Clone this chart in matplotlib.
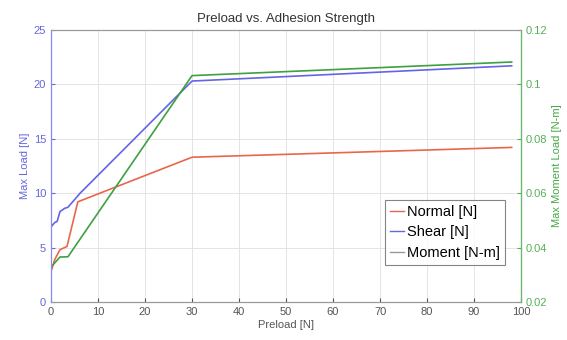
import matplotlib
matplotlib.use('Agg')
import matplotlib.pyplot as plt
from matplotlib.lines import Line2D

plt.rcParams['font.family'] = ['Liberation Sans', 'DejaVu Sans']

# 데이터
normal_x = [0, 0.8, 1.9, 3.4, 5.7, 30, 98]
normal_y = [2.8, 3.9, 4.8, 5.1, 9.2, 13.3, 14.2]

shear_x = [0, 0.8, 1.3, 1.9, 2.9, 3.6, 6.2, 30, 98]
shear_y = [6.9, 7.3, 7.4, 8.3, 8.6, 8.7, 10.0, 20.3, 21.7]

moment_x = [0, 1.9, 3.6, 30, 98]
moment_y = [0.0328, 0.0365, 0.0366, 0.1032, 0.1082]

red = '#e8674a'
blue = '#6464e6'
green = '#3ea043'

fig = plt.figure(figsize=(5.67, 3.4), dpi=100)
ax = fig.add_axes([0.09, 0.112, 0.829, 0.8])
ax2 = ax.twinx()

ax.plot(normal_x, normal_y, color=red, lw=1.2)
ax.plot(shear_x, shear_y, color=blue, lw=1.2)
ax2.plot(moment_x, moment_y, color=green, lw=1.2)

ax.set_xlim(0, 100)
ax.set_ylim(0, 25)
ax2.set_ylim(0.02, 0.12)
ax.set_xticks(range(0, 101, 10))
ax.set_yticks(range(0, 26, 5))
ax2.set_yticks([0.02, 0.04, 0.06, 0.08, 0.1, 0.12])
ax2.set_yticklabels(['0.02', '0.04', '0.06', '0.08', '0.1', '0.12'])

ax.grid(True, color='#e4e4e4', lw=0.7)
ax.tick_params(direction='in', labelsize=8, length=3, colors='#555555')
ax.tick_params(axis='y', colors='#6666dd')
ax2.tick_params(direction='in', labelsize=8, length=3, colors='#55b055')

for s in ['top', 'bottom']:
    ax.spines[s].set_color('#999999')
ax.spines['left'].set_color('#8888ee')
ax2.spines['left'].set_color('#8888ee')
ax2.spines['right'].set_color('#66bb66')
ax2.spines['top'].set_color('#999999')
ax2.spines['bottom'].set_color('#999999')

ax.set_xlabel('Preload [N]', fontsize=8, color='#555555', labelpad=2)
ax.set_ylabel('Max Load [N]', fontsize=8, color='#6666dd', labelpad=3)
ax2.set_ylabel('Max Moment Load [N-m]', fontsize=8, color='#44aa44', labelpad=3)
ax.set_title('Preload vs. Adhesion Strength', fontsize=9.5, color='#333333', pad=6)

handles = [Line2D([], [], color=red, lw=1),
           Line2D([], [], color=blue, lw=1),
           Line2D([], [], color='#999999', lw=1)]
leg = ax2.legend(handles, ['Normal [N]', 'Shear [N]', 'Moment [N-m]'],
                 loc='lower right', bbox_to_anchor=(0.966, 0.136),
                 fontsize=10.5, frameon=True, fancybox=False,
                 handlelength=1.0, handletextpad=0.2, borderpad=0.35,
                 labelspacing=0.45, borderaxespad=0)
leg.get_frame().set_edgecolor('#666666')
leg.get_frame().set_linewidth(0.8)

fig.savefig('out.png', dpi=100)
